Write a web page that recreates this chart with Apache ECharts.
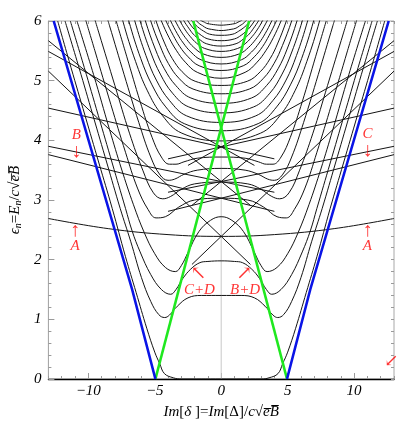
<!DOCTYPE html>
<html>
<head>
<meta charset="utf-8">
<script src="https://cdn.jsdelivr.net/npm/echarts@6/dist/echarts.min.js"></script>
<style>
html, body { margin: 0; padding: 0; background: #fff; }
#chart { width: 415px; height: 425px; }
</style>
</head>
<body>
<div id="chart"></div>
<script>
// tick values
const xTicks = [-10, -5, 0, 5, 10];
const xMinorTicks = [-13, -12, -11, -10, -9, -8, -7, -6, -5, -4, -3, -2, -1, 0,
  1, 2, 3, 4, 5, 6, 7, 8, 9, 10, 11, 12, 13];
const yTicks = [0, 1, 2, 3, 4, 5, 6];
const yMinorTicks = [0.2, 0.4, 0.6, 0.8, 1.2, 1.4, 1.6, 1.8, 2.2, 2.4, 2.6, 2.8,
  3.2, 3.4, 3.6, 3.8, 4.2, 4.4, 4.6, 4.8, 5.2, 5.4, 5.6, 5.8];

// right halves (x >= 0) of the symmetric levels
const levelHalves = [
  [[0,0],[3.0,0],[3.6,0.02],[4.27,0.09],[4.63,0.26],[5.0,0.45],[5.6,0.85],[6.4,1.45],[7.2,2.05],[8.2,2.86],[9.2,3.62],[10.25,4.42],[11.3,5.22],[12.3,6]],
  [[0,1.40],[1.5,1.40],[2.5,1.36],[3.3,1.22],[3.9,1.07],[4.25,1.03],[4.7,1.08],[5.3,1.3],[6.0,1.7],[6.8,2.3],[7.6,2.86],[8.6,3.62],[9.65,4.42],[10.7,5.22],[11.75,6]],
  [[0,1.98],[1,1.97],[1.6,1.95],[2.3,1.84],[2.9,1.68],[3.4,1.5],[3.8,1.42],[4.5,1.5],[5.3,1.75],[6.1,2.13],[6.7,2.48],[7.2,2.86],[8.2,3.62],[9.25,4.42],[10.3,5.22],[11.35,6]],
  [[0,2.72],[0.8,2.66],[1.68,2.47],[2.5,2.12],[3.0,1.9],[3.45,1.8],[4.2,1.87],[5.0,2.1],[5.8,2.46],[6.6,2.92],[7.5,3.52],[8.4,4.18],[9.6,5.1],[10.85,6]],
  [[0,3.03],[2.0,3.0],[3.2,2.88],[4.2,2.72],[4.9,2.7],[5.5,2.84],[6.3,3.2],[7.2,3.8],[8.3,4.6],[9.5,5.5],[10.2,6.02]],
  [[0,3.30],[2.0,3.27],[3.0,3.18],[3.8,3.06],[4.4,3.02],[5.1,3.12],[5.9,3.5],[6.9,4.12],[8.0,4.92],[9.2,5.8],[9.5,6.02]],
  [[0,3.53],[1.8,3.5],[2.8,3.43],[3.5,3.35],[4.0,3.33],[4.6,3.42],[5.3,3.72],[6.2,4.3],[7.3,5.1],[8.4,5.92],[8.55,6.03]],
  [[0,3.72],[1.8,3.7],[2.8,3.64],[3.4,3.6],[3.9,3.6],[4.5,3.72],[5.2,4.05],[6.1,4.65],[7.1,5.4],[7.9,6.0]],
  [[0,3.99],[2.96,4.12],[4.44,4.42],[5.55,4.83],[6.44,5.32],[7.4,6.0],[8.14,6.67]],
  [[0,4.16],[2.78,4.28],[4.17,4.56],[5.21,4.93],[6.05,5.37],[6.95,6.0],[7.65,6.61]],
  [[0,4.30],[2.6,4.41],[3.9,4.67],[4.88,5.01],[5.66,5.42],[6.5,6.0],[7.15,6.56]],
  [[0,4.46],[2.44,4.56],[3.66,4.79],[4.58,5.11],[5.31,5.48],[6.1,6.0],[6.71,6.51]],
  [[0,4.62],[2.28,4.71],[3.42,4.92],[4.28,5.2],[4.96,5.53],[5.7,6.0],[6.27,6.46]],
  [[0,4.78],[2.12,4.86],[3.18,5.04],[3.98,5.29],[4.61,5.59],[5.3,6.0],[5.83,6.4]],
  [[0,4.92],[1.96,4.99],[2.94,5.15],[3.68,5.37],[4.26,5.63],[4.9,6.0],[5.39,6.36]],
  [[0,5.04],[1.8,5.14],[2.7,5.31],[3.38,5.51],[3.92,5.72],[4.5,6.0],[4.95,6.26]],
  [[0,5.17],[1.66,5.25],[2.49,5.4],[3.11,5.57],[3.61,5.76],[4.15,6.0],[4.57,6.22]],
  [[0,5.28],[1.52,5.35],[2.28,5.48],[2.85,5.63],[3.31,5.79],[3.8,6.0],[4.18,6.19]],
  [[0,5.39],[1.38,5.45],[2.07,5.56],[2.59,5.69],[3.0,5.82],[3.45,6.0],[3.8,6.16]],
  [[0,5.49],[1.24,5.54],[1.86,5.63],[2.33,5.74],[2.7,5.85],[3.1,6.0],[3.41,6.14]],
  [[0,5.58],[1.12,5.62],[1.68,5.7],[2.1,5.78],[2.44,5.88],[2.8,6.0],[3.08,6.11]],
  [[0,5.67],[1.0,5.7],[1.5,5.76],[1.88,5.83],[2.18,5.9],[2.5,6.0],[2.75,6.09]],
  [[0,5.76],[0.88,5.78],[1.32,5.83],[1.65,5.88],[1.91,5.93],[2.2,6.0],[2.42,6.06]],
  [[0,5.84],[0.74,5.86],[1.11,5.88],[1.39,5.92],[1.61,5.95],[1.85,6.0],[2.04,6.04]],
  [[0,5.93],[0.58,5.94],[0.87,5.95],[1.09,5.96],[1.26,5.98],[1.45,6.0],[1.6,6.02]]
];

// shallow level "A", right half
const curveA = [[0,2.39],[4,2.42],[8.5,2.52],[13,2.69]];

// straight crossing lines (each also drawn mirrored)
const crossLines = [
  [[-13,5.16],[0,2.39],[2.2,1.92]],
  [[-13,5.67],[0,3.31],[2.2,2.91]],
  [[-13,5.49],[0,3.89],[2.5,3.58]],
  [[-13,4.54],[0,3.89],[4,3.69]],
  [[-13,3.90],[0,3.31],[4,3.13]],
  [[-13,3.76],[0,3.03],[4,2.81]]
];

const blueHalf = [[4.95,0],[6.7,1.5],[12.6,6]];
const greenLine = [[-4.95,0],[2.1,6]];
const zeroLine = [[0,0],[0,6]];

const notes = [
  [-11.0, 2.22, 'A', 15], [-11.0, 2.49, '\u2191', 20],
  [11.0, 2.22, 'A', 15], [11.0, 2.49, '\u2191', 20],
  [-10.9, 4.08, 'B', 15], [-10.9, 3.81, '\u2193', 20],
  [11.0, 4.11, 'C', 15], [11.0, 3.83, '\u2193', 20],
  [-1.64, 1.49, 'C+D', 15], [-1.72, 1.76, '\u2196', 19],
  [1.80, 1.49, 'B+D', 15], [1.74, 1.76, '\u2197', 19],
  [12.8, 0.29, '\u2199', 17]
];

const mirror = pts => pts.map(p => [-p[0], p[1]]);
const fullLevel = half => mirror(half).reverse().concat(half.slice(1));

const serif = '"Liberation Serif", "DejaVu Serif", serif';

function line(data, color, width, smooth, z) {
  return {
    type: 'line', data: data, symbol: 'none', showSymbol: false,
    smooth: smooth, silent: true, z: z,
    lineStyle: { color: color, width: width }
  };
}

const series = [];
series.push(line(zeroLine, '#c8c8c8', 1, false, 1));
levelHalves.forEach(h => series.push(line(fullLevel(h), '#141414', 1, 0.4, 2)));
series.push(line(fullLevel(curveA), '#141414', 1, 0.4, 2));
crossLines.forEach(l => {
  series.push(line(l, '#141414', 1, false, 2));
  series.push(line(mirror(l), '#141414', 1, false, 2));
});
series.push(line(greenLine, '#1fe81f', 2.6, false, 3));
series.push(line(mirror(greenLine), '#1fe81f', 2.6, false, 3));
series.push(line(blueHalf, '#0a14e6', 2.6, false, 4));
series.push(line(mirror(blueHalf), '#0a14e6', 2.6, false, 4));
series.push({
  type: 'scatter', symbolSize: 0, silent: true, z: 5,
  data: notes.map(n => ({
    value: [n[0], n[1]],
    label: { formatter: n[2], fontSize: n[3], fontStyle: n[2].length > 1 || /[A-Z]/.test(n[2]) ? 'italic' : 'normal' }
  })),
  label: {
    show: true, position: 'inside', color: '#ff0000',
    fontFamily: serif
  }
});

const minus = v => String(v).replace('-', '\u2212');
const tickGray = '#9a9a9a';

const nameRich = {
  i: { fontFamily: serif, fontStyle: 'italic', fontSize: 15, color: '#000' },
  r: { fontFamily: serif, fontSize: 15, color: '#000' },
  s: { fontFamily: serif, fontStyle: 'italic', fontSize: 10, color: '#000', verticalAlign: 'bottom' }
};

const chart = echarts.init(document.getElementById('chart'));
chart.setOption({
  animation: false,
  backgroundColor: '#fff',
  grid: {
    left: 33, top: 21, width: 361, height: 361,
    show: true, borderColor: '#a8a8a8', borderWidth: 1
  },
  xAxis: [{
    type: 'value', min: -13, max: 13,
    name: '{i|Im}{r|[}{i|\u03b4 }{r|]=}{i|Im}{r|[\u0394]/}{i|c}{r|\u221a}{i|e\u0305B\u0305}',
    nameLocation: 'middle', nameGap: 26,
    nameTextStyle: { rich: nameRich },
    axisLine: { show: true, onZero: false, lineStyle: { color: '#000', width: 1.3 } },
    axisTick: { show: true, inside: true, length: 3, customValues: xMinorTicks, lineStyle: { color: tickGray } },
    axisLabel: {
      customValues: xTicks, formatter: minus, margin: 5,
      fontFamily: serif, fontStyle: 'italic', fontSize: 15, color: '#000'
    },
    splitLine: { show: false }
  }, {
    type: 'value', min: -13, max: 13, position: 'bottom',
    axisLine: { show: false, onZero: false },
    axisTick: { show: true, inside: true, length: 6, customValues: xTicks, lineStyle: { color: tickGray } },
    axisLabel: { show: false }, splitLine: { show: false }
  }, {
    type: 'value', min: -13, max: 13, position: 'top',
    axisLine: { show: false, onZero: false },
    axisTick: { show: true, inside: true, length: 3, customValues: xMinorTicks, lineStyle: { color: tickGray } },
    axisLabel: { show: false }, splitLine: { show: false }
  }],
  yAxis: [{
    type: 'value', min: 0, max: 6,
    name: '{i|\u03f5}{s|n}{r|=}{i|E}{s|n}{r|/}{i|c}{r|\u221a}{i|e\u0305B\u0305}',
    nameLocation: 'middle', nameGap: 12,
    nameTextStyle: { rich: nameRich },
    axisLine: { show: true, onZero: false, lineStyle: { color: '#a8a8a8' } },
    axisTick: { show: true, inside: true, length: 6, customValues: yTicks, lineStyle: { color: tickGray } },
    axisLabel: {
      customValues: yTicks, margin: 7,
      fontFamily: serif, fontStyle: 'italic', fontSize: 15, color: '#000'
    },
    splitLine: { show: false }
  }, {
    type: 'value', min: 0, max: 6, position: 'left',
    axisLine: { show: false, onZero: false },
    axisTick: { show: true, inside: true, length: 3, customValues: yMinorTicks, lineStyle: { color: tickGray } },
    axisLabel: { show: false }, splitLine: { show: false }
  }, {
    type: 'value', min: 0, max: 6, position: 'right',
    axisLine: { show: false, onZero: false },
    axisTick: { show: true, inside: true, length: 3, customValues: yMinorTicks.concat(yTicks), lineStyle: { color: tickGray } },
    axisLabel: { show: false }, splitLine: { show: false }
  }],
  series: series
});
</script>
</body>
</html>
